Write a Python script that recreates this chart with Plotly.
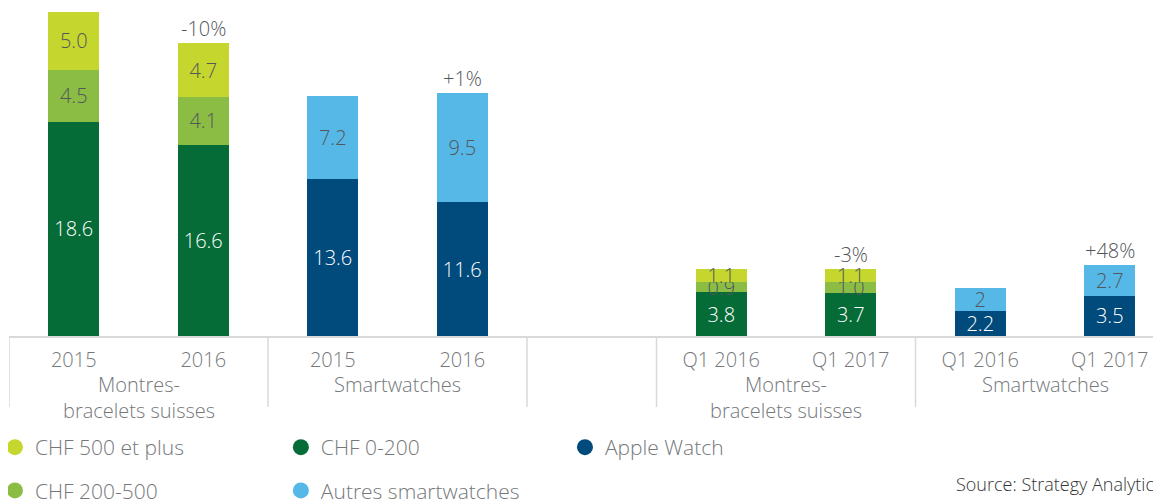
import plotly.graph_objects as go

# ---------------- data ----------------
periods = ["2015", "2016", "2015", "2016", "", "Q1 2016", "Q1 2017", "Q1 2016", "Q1 2017"]
group_labels = ["Montres-<br>bracelets suisses", "Smartwatches", "",
                "Montres-<br>bracelets suisses", "Smartwatches"]
group_sizes = [2, 2, 1, 2, 2]

chf_0_200 = [18.6, 16.6, None, None, None, 3.8, 3.7, None, None]
chf_200_500 = [4.5, 4.1, None, None, None, 0.9, 1.0, None, None]
chf_500_plus = [5.0, 4.7, None, None, None, 1.1, 1.1, None, None]
apple_watch = [None, None, 13.6, 11.6, None, None, None, 2.2, 3.5]
autres_smart = [None, None, 7.2, 9.5, None, None, None, 2, 2.7]
change_labels = ["", "-10%", "", "+1%", "", "", "-3%", "", "+48%"]

source_text = "Source: Strategy Analytics"

# ---------------- styles ----------------
FONT = "Open Sans"
C_500 = "#C5D62E"
C_200 = "#8BBD45"
C_0 = "#056B37"
C_AW = "#004A7C"
C_OT = "#56B8E7"
TXT_DARK = "#53565A"
TXT_AXIS = "#75787B"
GRID = "#D9D9D9"

# the page body has an 8px margin, so the figure is offset by 8px
PLOT_L, PLOT_W, PLOT_H = 1, 1152, 328
FIG_W, FIG_H = 1153, 493
SLOT = 129.5
PX_PER_UNIT = 11.53

x = list(range(len(periods)))


def lbl(vals):
    return ["" if v is None else str(v) for v in vals]


fig = go.Figure()

series = [
    ("CHF 0-200", chf_0_200, C_0, "white"),
    ("CHF 200-500", chf_200_500, C_200, TXT_DARK),
    ("CHF 500 et plus", chf_500_plus, C_500, TXT_DARK),
    ("Apple Watch", apple_watch, C_AW, "white"),
    ("Autres smartwatches", autres_smart, C_OT, TXT_DARK),
]
for name, vals, col, tcol in series:
    fig.add_trace(go.Bar(
        x=x, y=vals, name=name, marker=dict(color=col, line=dict(width=0)),
        text=lbl(vals), textposition="inside", insidetextanchor="middle",
        constraintext="none", textangle=0,
        textfont=dict(family=FONT, size=20, color=tcol, weight=300),
        showlegend=False, hoverinfo="skip",
    ))

# legend entries (circle markers) in three columns
legend_cols = [
    ("legend", [("CHF 500 et plus", C_500), ("CHF 200-500", C_200)]),
    ("legend2", [("CHF 0-200", C_0), ("Autres smartwatches", C_OT)]),
    ("legend3", [("Apple Watch", C_AW)]),
]
for lg, items in legend_cols:
    for name, col in items:
        fig.add_trace(go.Scatter(
            x=[None], y=[None], mode="markers", name=name,
            marker=dict(symbol="circle", size=16, color=col),
            legend=lg, legendgroup=name, showlegend=True,
        ))

# change labels above stacks
totals = []
for i in x:
    s = 0
    for _, vals, _, _ in series:
        if vals[i] is not None:
            s += vals[i]
    totals.append(s)

annotations = []
for i, t in enumerate(change_labels):
    if t:
        annotations.append(dict(
            x=i, y=totals[i], xref="x", yref="y", text=t, showarrow=False,
            yanchor="bottom", yshift=-1,
            font=dict(family=FONT, size=20, color=TXT_DARK, weight=300)))

# group labels and dividers
shapes = []
start = 0
bounds = [-0.5]
for g, n in zip(group_labels, group_sizes):
    center = start + (n - 1) / 2
    if g:
        annotations.append(dict(
            x=center, y=0, xref="x", yref="paper", text=g, showarrow=False,
            yanchor="top", yshift=-33,
            font=dict(family=FONT, size=20, color=TXT_AXIS, weight=300)))
    start += n
    bounds.append(start - 0.5)

for b in bounds:
    shapes.append(dict(
        type="line", xref="x", yref="paper", x0=b, x1=b,
        ysizemode="pixel", yanchor=0, y0=0, y1=-71,
        line=dict(color=GRID, width=1.5), layer="below"))

annotations.append(dict(
    x=(946 - PLOT_L) / PLOT_W, y=(PLOT_H - 476) / PLOT_H,
    xref="paper", yref="paper", text=source_text, showarrow=False,
    xanchor="left", yanchor="middle",
    font=dict(family=FONT, size=18, color="#333333")))

leg_font = dict(family=FONT, size=21, color=TXT_AXIS, weight=300)
leg_y = (PLOT_H - 419) / PLOT_H
leg_common = dict(y=leg_y, xanchor="left", yanchor="top", orientation="v",
                  tracegroupgap=13, font=leg_font, bgcolor="rgba(0,0,0,0)")

fig.update_layout(
    width=FIG_W, height=FIG_H,
    margin=dict(l=PLOT_L, r=FIG_W - PLOT_L - PLOT_W, t=0, b=FIG_H - PLOT_H,
                autoexpand=False),
    plot_bgcolor="white", paper_bgcolor="white",
    barmode="stack", bargap=0.606,
    font=dict(family=FONT, size=20, color=TXT_AXIS, weight=300),
    xaxis=dict(
        range=[-0.5, -0.5 + PLOT_W / SLOT], tickmode="array",
        tickvals=x, ticktext=periods, showgrid=False, zeroline=False,
        showline=True, linecolor=GRID, linewidth=1.5, ticks="",
        ticklabelstandoff=5,
        tickfont=dict(family=FONT, size=20, color=TXT_AXIS, weight=300),
    ),
    yaxis=dict(range=[0, PLOT_H / PX_PER_UNIT], visible=False, showgrid=False),
    shapes=shapes,
    annotations=annotations,
    legend=dict(x=-0.0122, **leg_common),
    legend2=dict(x=0.2360, **leg_common),
    legend3=dict(x=0.4826, **leg_common),
)

fig.write_html("out.html")
